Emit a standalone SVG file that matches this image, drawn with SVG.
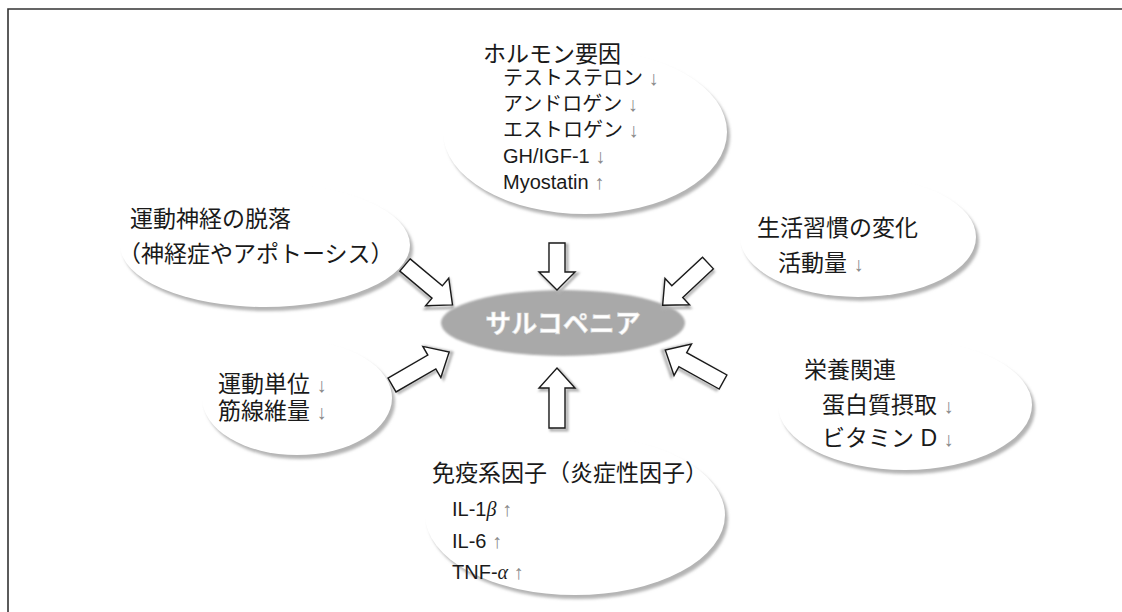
<svg xmlns="http://www.w3.org/2000/svg" width="1122" height="612" viewBox="0 0 1122 612">
<defs>
<filter id="blur" x="-20%" y="-20%" width="140%" height="140%"><feGaussianBlur stdDeviation="1.5"/></filter>
<filter id="blur2" x="-20%" y="-20%" width="140%" height="140%"><feGaussianBlur stdDeviation="1.2"/></filter>
</defs>
<style>
.sh{fill:#b4b4b4;filter:url(#blur)}
.bub{fill:#fff}
.t{font-family:"Liberation Sans","Noto Sans CJK JP",sans-serif;fill:#1a1a1a}
.h{font-size:23px}
.i{font-size:20px}
.ar{fill:#8a8a8a}
.gi{font-family:"Liberation Serif",serif;font-style:italic}
.arr{fill:#fff;stroke:#1a1a1a;stroke-width:1.4;stroke-linejoin:miter}
.arrsh{fill:none;stroke:#b0b0b0;stroke-width:3;filter:url(#blur2)}
</style>
<rect width="1122" height="612" fill="#fff"/>
<path d="M8,612 V9 H1122" fill="none" stroke="#333" stroke-width="1.6"/>

<g id="node-hormone">
<ellipse class="sh" cx="588" cy="136" rx="142" ry="82"/>
<ellipse class="bub" cx="585" cy="132" rx="142" ry="82"/>
<text class="t h" x="483" y="62">ホルモン要因</text>
<text class="t i" x="503" y="85">テストステロン <tspan class="ar">↓</tspan></text>
<text class="t i" x="503" y="111">アンドロゲン <tspan class="ar">↓</tspan></text>
<text class="t i" x="503" y="137">エストロゲン <tspan class="ar">↓</tspan></text>
<text class="t i" x="503" y="163">GH/IGF-1 <tspan class="ar">↓</tspan></text>
<text class="t i" x="503" y="189">Myostatin <tspan class="ar">↑</tspan></text>
</g>

<g id="node-motor-nerve">
<ellipse class="sh" cx="268" cy="249" rx="145" ry="62"/>
<ellipse class="bub" cx="265" cy="245" rx="145" ry="62"/>
<text class="t h" x="130" y="227">運動神経の脱落</text>
<text class="t h" x="118" y="262">（神経症やアポトーシス）</text>
</g>

<g id="node-lifestyle">
<ellipse class="sh" cx="861" cy="241" rx="118" ry="60"/>
<ellipse class="bub" cx="858" cy="237" rx="118" ry="60"/>
<text class="t h" x="757" y="236">生活習慣の変化</text>
<text class="t h" x="778" y="271">活動量 <tspan class="ar" font-size="20">↓</tspan></text>
</g>

<g id="node-motor-unit">
<ellipse class="sh" cx="300" cy="402" rx="95" ry="57"/>
<ellipse class="bub" cx="297" cy="398" rx="95" ry="57"/>
<text class="t h" x="218" y="392">運動単位 <tspan class="ar" font-size="20">↓</tspan></text>
<text class="t h" x="218" y="419">筋線維量 <tspan class="ar" font-size="20">↓</tspan></text>
</g>

<g id="node-nutrition">
<ellipse class="sh" cx="908" cy="409" rx="127" ry="65"/>
<ellipse class="bub" cx="905" cy="405" rx="127" ry="65"/>
<text class="t h" x="804" y="378">栄養関連</text>
<text class="t h" x="822" y="413">蛋白質摂取 <tspan class="ar" font-size="20">↓</tspan></text>
<text class="t h" x="822" y="446">ビタミン D <tspan class="ar" font-size="20">↓</tspan></text>
</g>

<g id="node-immune">
<ellipse class="sh" cx="578" cy="519" rx="150" ry="80"/>
<ellipse class="bub" cx="575" cy="515" rx="150" ry="80"/>
<text class="t h" x="432" y="481">免疫系因子（炎症性因子）</text>
<text class="t i" x="452" y="516">IL-1<tspan class="gi">β</tspan> <tspan class="ar">↑</tspan></text>
<text class="t i" x="452" y="548">IL-6 <tspan class="ar">↑</tspan></text>
<text class="t i" x="452" y="579">TNF-<tspan class="gi">α</tspan> <tspan class="ar">↑</tspan></text>
</g>

<g id="node-sarcopenia">
<ellipse cx="563" cy="323" rx="122" ry="33" fill="#a9a9a9" filter="url(#blur2)"/>
<text x="563" y="333" text-anchor="middle" font-family="Noto Sans CJK JP,sans-serif" font-size="26" font-weight="bold" fill="#fff" stroke="#dcdcdc" stroke-width="0.6">サルコペニア</text>
</g>

<g id="connectors">
<g transform="translate(557,243) rotate(90)">
<path class="arrsh" transform="translate(2,-2)" d="M0,-8 H29 V-18 L47,0 L29,18 V8 H0 Z"/>
<path class="arr" d="M0,-8 H29 V-18 L47,0 L29,18 V8 H0 Z"/>
</g>
<g transform="translate(405,265) rotate(40)">
<path class="arrsh" transform="translate(2,2)" d="M0,-8 H42 V-18 L62,0 L42,18 V8 H0 Z"/>
<path class="arr" d="M0,-8 H42 V-18 L62,0 L42,18 V8 H0 Z"/>
</g>
<g transform="translate(708,263) rotate(137)">
<path class="arrsh" transform="translate(2,-2)" d="M0,-8 H42 V-18 L62,0 L42,18 V8 H0 Z"/>
<path class="arr" d="M0,-8 H42 V-18 L62,0 L42,18 V8 H0 Z"/>
</g>
<g transform="translate(392,385) rotate(-30)">
<path class="arrsh" transform="translate(2,2)" d="M0,-8 H46 V-18 L66,0 L46,18 V8 H0 Z"/>
<path class="arr" d="M0,-8 H46 V-18 L66,0 L46,18 V8 H0 Z"/>
</g>
<g transform="translate(723,382) rotate(209)">
<path class="arrsh" transform="translate(2,-2)" d="M0,-8 H46 V-18 L66,0 L46,18 V8 H0 Z"/>
<path class="arr" d="M0,-8 H46 V-18 L66,0 L46,18 V8 H0 Z"/>
</g>
<g transform="translate(557,428) rotate(-90)">
<path class="arrsh" transform="translate(-2,2)" d="M0,-8 H40 V-18 L60,0 L40,18 V8 H0 Z"/>
<path class="arr" d="M0,-8 H40 V-18 L60,0 L40,18 V8 H0 Z"/>
</g>
</g>
</svg>
